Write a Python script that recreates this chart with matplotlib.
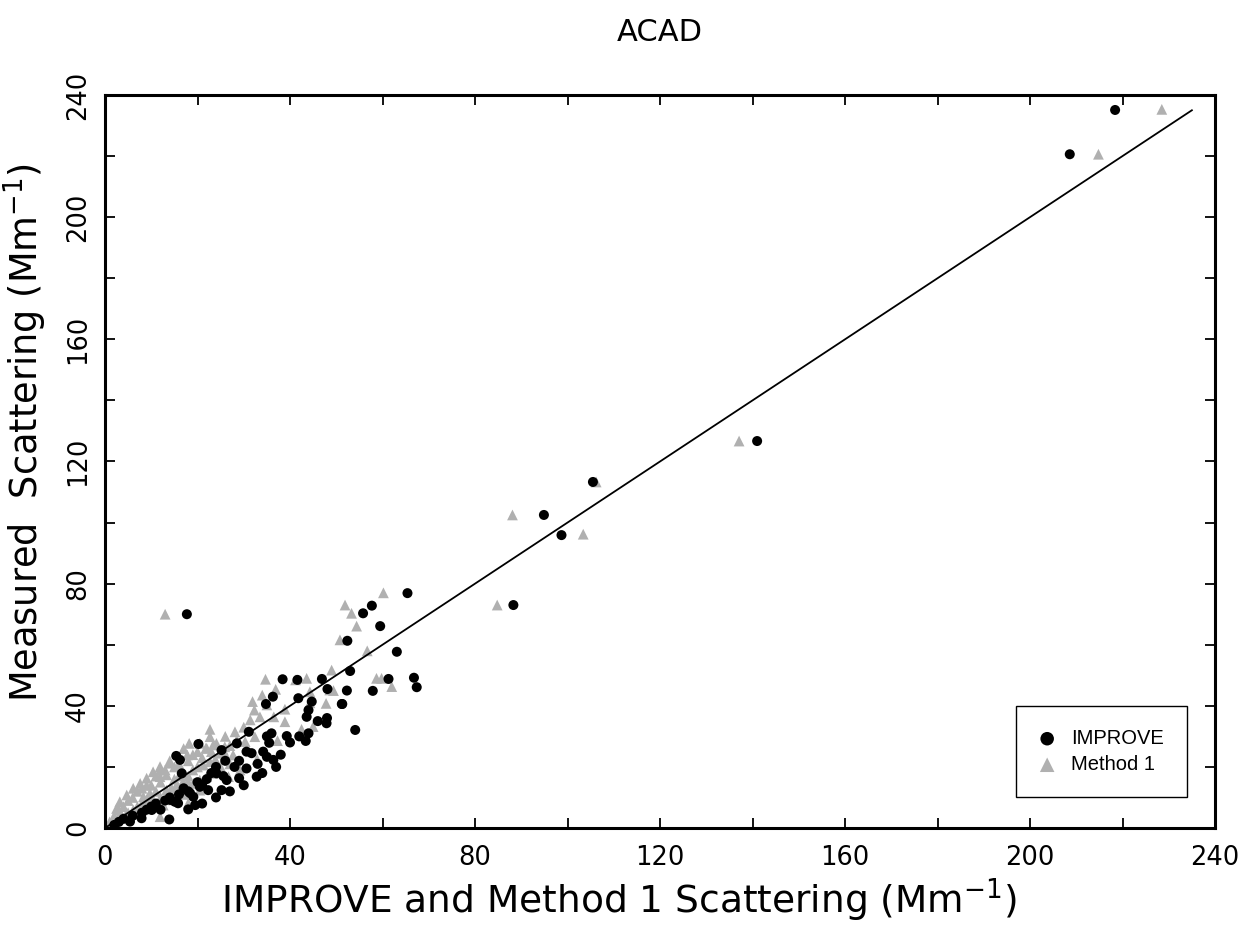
import matplotlib
matplotlib.use("Agg")
import matplotlib.pyplot as plt
from matplotlib.ticker import MultipleLocator

title = "ACAD"
x_label = "IMPROVE and Method 1 Scattering (Mm$^{-1}$)"
y_label = "Measured  Scattering (Mm$^{-1}$)"
series_names = ["IMPROVE", "Method 1"]
ticks = [0, 40, 80, 120, 160, 200, 240]
line_end = 235

improve_x = [218.4, 208.6, 141.0, 105.5, 94.9, 98.7, 88.3, 17.7,
             65.4, 57.7, 55.8, 59.5, 52.4, 63.1, 53.0, 46.9, 61.3, 66.8, 67.4, 52.3,
             57.9, 48.1, 51.2, 44.7, 54.1, 38.4, 41.6, 36.3, 34.8, 41.8, 51.3, 44.0,
             43.6, 47.9, 39.3, 43.4, 35.5, 31.1, 20.2, 15.4, 16.2, 25.2, 28.5, 30.6,
             31.7, 34.2, 35.0, 36.4, 30.6, 32.8, 29.0, 25.2, 22.3, 19.5, 18.0, 13.9,
             10.1, 24.1, 25.6, 26.3, 20.5, 18.4, 19.1, 14.1, 15.1, 7.9, 5.4, 15.8,
             16.6, 2, 3, 4, 6, 8, 9, 10, 11, 12, 13, 14, 16, 17, 18, 20, 21, 22,
             23, 24, 26, 28, 29, 33, 34, 37, 38, 40, 42, 44, 46, 48, 30, 27,
             24, 21, 35, 36]
improve_y = [235.1, 220.6, 126.7, 113.3, 102.5, 95.9, 73.0, 70.0,
             76.9, 72.8, 70.3, 66.1, 61.3, 57.7, 51.4, 48.8, 48.8, 49.2, 46.1, 45.0,
             44.9, 45.5, 40.6, 41.4, 32.1, 48.7, 48.5, 43.0, 40.6, 42.5, 40.6, 38.6,
             36.4, 34.3, 30.1, 28.5, 27.9, 31.5, 27.5, 23.6, 22.3, 25.5, 27.7, 25.0,
             24.5, 25.0, 23.3, 22.3, 19.5, 16.8, 16.3, 12.4, 12.4, 7.5, 6.1, 2.8,
             5.9, 17.9, 17.0, 15.7, 13.5, 11.4, 10.2, 9.2, 8.6, 3.2, 2.1, 8.1,
             17.9, 1, 2, 3, 4, 5, 6, 7, 8, 6, 9, 10, 11, 13, 12, 15, 14, 16,
             18, 20, 22, 20, 22, 21, 18, 20, 24, 28, 30, 31, 35, 36, 14, 12,
             10, 8, 30, 31]

method1_x = [228.5, 214.8, 137.1, 106.2, 88.1, 103.4, 84.8, 13.0,
             60.2, 51.9, 53.3, 54.4, 50.8, 56.7, 49.0, 43.6, 58.7, 59.8, 62.0, 48.6,
             49.4, 44.3, 47.8, 44.3, 34.7, 41.2, 36.9, 34.0, 31.9, 32.3, 35.0, 38.9,
             33.5, 36.5, 31.4, 38.9, 45.0, 42.5, 22.7, 37.3, 32.4, 28.1, 28.5, 25.9,
             32.9, 27.7, 20.5, 22.0, 23.4, 22.7, 24.9, 23.8, 18.2, 24.1, 21.8, 28.5,
             30.3, 17.8, 14.1, 11.9, 10.4, 9.0, 7.6, 6.1, 4.7, 3.2, 2.5, 11.9, 13.3,
             16.9, 25.6, 26.7, 24.5, 20.5, 18.0, 12.6, 14.8, 11.9, 3.2, 4.7, 6.1, 1.8,
             1.1, 9.0, 8.3, 9.7, 13.3, 14.4, 15.5, 19.1, 20.5, 22.0, 23.4, 21.3, 22.7,
             29.2, 5, 7, 8, 10, 12, 13, 15, 16, 18, 19, 20, 3, 4, 6, 17, 15, 19, 21,
             23, 26, 27, 2, 1, 5, 7, 8, 10, 11, 16, 18, 24, 12, 14, 16, 18, 10, 8,
             17, 25, 27, 9, 11, 14, 20, 26, 30, 17, 12]
method1_y = [235.3, 220.6, 126.7, 113.3, 102.5, 96.2, 73.0, 70.0,
             77.0, 73.0, 70.3, 66.1, 61.6, 58.0, 51.7, 49.0, 49.0, 49.0, 46.3, 45.2,
             45.0, 44.6, 40.8, 41.0, 48.7, 48.5, 45.4, 43.5, 41.4, 38.6, 40.3, 38.9,
             36.4, 36.4, 35.4, 34.8, 33.2, 32.3, 32.3, 28.6, 29.9, 31.5, 28.8, 26.6,
             22.5, 23.9, 27.7, 26.1, 27.2, 29.9, 24.5, 22.3, 27.7, 27.7, 26.1, 28.3,
             28.3, 23.9, 21.2, 20.1, 18.4, 16.3, 14.6, 13.0, 10.8, 8.6, 6.4, 16.8, 17.4,
             15.2, 25.5, 16.8, 18.4, 12.4, 8.1, 7.5, 9.2, 3.7, 4.3, 4.8, 5.9, 2.6,
             1.5, 9.2, 10.2, 11.4, 12.4, 13.0, 14.1, 14.6, 15.7, 16.8, 17.9, 20.6, 21.7,
             19.0, 9, 12, 13, 14, 15, 19, 20, 21, 22, 24, 20, 6, 7, 10, 18, 16, 19, 23,
             25, 24, 27, 4, 2, 5, 7, 8, 10, 12, 17, 17, 22, 10, 12, 13, 15, 8, 6,
             11, 20, 21, 14, 17, 22, 25, 30, 33, 26, 19]

plt.rcParams['font.family'] = ['DejaVu Sans']
plt.rcParams['mathtext.default'] = 'regular'

fig = plt.figure(figsize=(12.47, 9.30), dpi=100)
ax = fig.add_axes([105/1247, 102/930, 1110/1247, 733/930])

ax.scatter(method1_x, method1_y, marker='^', s=60, color='#b0b0b0',
           edgecolors='none', label=series_names[1], zorder=2)
ax.scatter(improve_x, improve_y, marker='o', s=52, color='black',
           edgecolors='none', label=series_names[0], zorder=3)
ax.plot([0, line_end], [0, line_end], color='black', lw=1.3, zorder=4)

ax.set_xlim(ticks[0], ticks[-1])
ax.set_ylim(ticks[0], ticks[-1])
ax.set_xticks(ticks)
ax.set_yticks(ticks)
ax.xaxis.set_minor_locator(MultipleLocator(20))
ax.yaxis.set_minor_locator(MultipleLocator(20))
ax.tick_params(which='both', direction='in', top=True, right=True,
               length=7, width=1.3, color='black')
ax.tick_params(axis='x', which='major', labelsize=18.5, pad=12)
ax.tick_params(axis='y', which='major', labelsize=18.5, pad=10, labelrotation=90)
for lab in ax.get_yticklabels():
    lab.set_va('center')
for sp in ax.spines.values():
    sp.set_linewidth(2.2)

ax.set_xlabel(x_label, fontsize=27)
ax.set_ylabel(y_label, fontsize=26.5)
ax.xaxis.set_label_coords(0.463, -0.066)
ax.yaxis.set_label_coords(-0.05, 0.54)
ax.set_title(title, fontsize=22, pad=39)

leg = ax.legend(handles=[ax.collections[1], ax.collections[0]],
                loc='lower right', bbox_to_anchor=(0.975, 0.042),
                borderaxespad=0, frameon=True, fancybox=False,
                framealpha=1, edgecolor='black', handletextpad=0.8,
                borderpad=1.15, labelspacing=0.35, handlelength=0.8,
                markerscale=1.35, prop={'family': 'Liberation Sans', 'size': 14.5})
leg.get_frame().set_linewidth(1.0)

fig.savefig("out.png", dpi=100)
